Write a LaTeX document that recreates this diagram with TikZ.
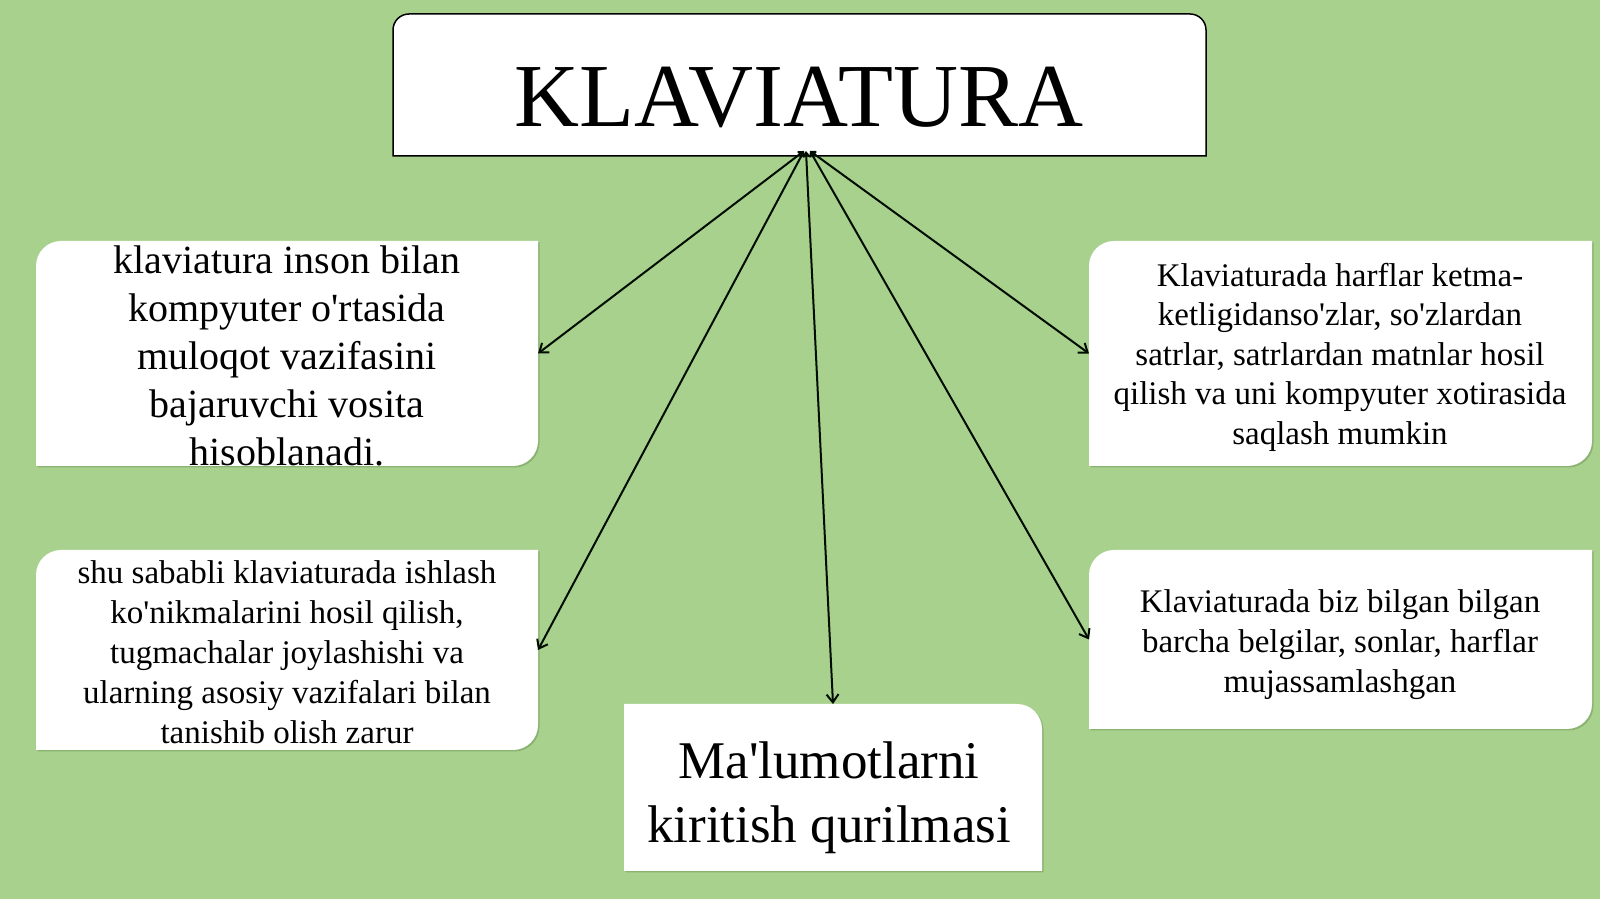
\documentclass[tikz,border=0pt]{standalone}
\usepackage{fontspec}
\setmainfont{Liberation Serif}[Ligatures=TeXOff]
\usetikzlibrary{arrows.meta}
\definecolor{kvbg}{RGB}{169,209,142}
\definecolor{kvshadow}{RGB}{138,178,112}
\newcommand{\kvTLBR}[2]{(#1.south west) -- ([yshift=-#2]#1.north west) arc[start angle=180,end angle=90,radius=#2] -- (#1.north east) -- ([yshift=#2]#1.south east) arc[start angle=0,end angle=-90,radius=#2] -- cycle}
\newcommand{\kvTopShape}[2]{(#1.south west) -- ([yshift=-#2]#1.north west) arc[start angle=180,end angle=90,radius=#2] -- ([xshift=-#2]#1.north east) arc[start angle=90,end angle=0,radius=#2] -- (#1.south east) -- cycle}
\newcommand{\kvTR}[2]{(#1.south west) -- (#1.north west) -- ([xshift=-#2]#1.north east) arc[start angle=90,end angle=0,radius=#2] -- (#1.south east) -- cycle}
\tikzset{
  boxn/.style={rectangle, inner sep=0pt, outer sep=0pt, draw=none},
  txt/.style={align=center, inner sep=0pt, text=black},
  conn/.style={line width=2pt, black!95!green,
    {Straight Barb[length=4pt,width=6pt]}-{Straight Barb[length=8pt,width=12pt]}},
  whitebox/.style={fill=white},
  shadowbox/.style={fill=kvshadow, transform canvas={shift={(1.5pt,-1.5pt)}}}
}
\begin{document}
\begin{tikzpicture}[x=1pt,y=1pt]
\fill[kvbg] (0,0) rectangle (1600,899);
\useasboundingbox (0,0) rectangle (1600,899);

% box nodes
\node[boxn, minimum width=813pt, minimum height=142pt] (top) at (799.5,814) {};
\node[boxn, minimum width=502pt, minimum height=225pt] (L1) at (287,545.5) {};
\node[boxn, minimum width=502pt, minimum height=200pt] (L2) at (287,249) {};
\node[boxn, minimum width=503pt, minimum height=225pt] (R1) at (1340.5,545.5) {};
\node[boxn, minimum width=503pt, minimum height=179pt] (R2) at (1340.5,259.5) {};
\node[boxn, minimum width=418pt, minimum height=167pt] (B) at (833,111.5) {};

% shapes
\fill[shadowbox] \kvTLBR{L1}{25pt};
\fill[shadowbox] \kvTLBR{L2}{25pt};
\fill[shadowbox] \kvTLBR{R1}{25pt};
\fill[shadowbox] \kvTLBR{R2}{25pt};
\fill[shadowbox] \kvTR{B}{25pt};
\fill[whitebox] \kvTLBR{L1}{25pt};
\fill[whitebox] \kvTLBR{L2}{25pt};
\fill[whitebox] \kvTLBR{R1}{25pt};
\fill[whitebox] \kvTLBR{R2}{25pt};
\fill[whitebox] \kvTR{B}{25pt};
\filldraw[fill=white, draw=black, line width=1.5pt] \kvTopShape{top}{16pt};

% texts
\node[txt, font=\fontsize{90}{100}\selectfont, anchor=base] (tTop) at (799,772) {KLAVIATURA};
\node[txt, font=\fontsize{40}{48}\selectfont] (tL1) at (287,543) {klaviatura inson bilan\\kompyuter o'rtasida\\muloqot vazifasini\\bajaruvchi vosita\\hisoblanadi.};
\node[txt, font=\fontsize{33}{40}\selectfont] (tL2) at (287,247) {shu sababli klaviaturada ishlash\\ko'nikmalarini hosil qilish,\\tugmachalar joylashishi va\\ularning asosiy vazifalari bilan\\tanishib olish zarur};
\node[txt, font=\fontsize{33}{39.5}\selectfont] (tR1) at (1340,542) {Klaviaturada harflar ketma-\\ketligidanso'zlar, so'zlardan\\satrlar, satrlardan matnlar hosil\\qilish va uni kompyuter xotirasida\\saqlash mumkin};
\node[txt, font=\fontsize{33}{40}\selectfont] (tR2) at (1340,254) {Klaviaturada biz bilgan bilgan\\barcha belgilar, sonlar, harflar\\mujassamlashgan};
\node[txt, font=\fontsize{53}{64}\selectfont] (tB) at (829,101) {Ma'lumotlarni\\kiritish qurilmasi};

% connectors
\coordinate (o1) at (804,748);
\coordinate (o2) at (806,748);
\coordinate (o3) at (810,748);
\draw[conn] (o1) -- (L1.east);
\draw[conn] (o1) -- (L2.east);
\draw[conn] (o2) -- (B.north);
\draw[conn] (o3) -- (R1.west);
\draw[conn] (o3) -- (R2.west);
\end{tikzpicture}
\end{document}
